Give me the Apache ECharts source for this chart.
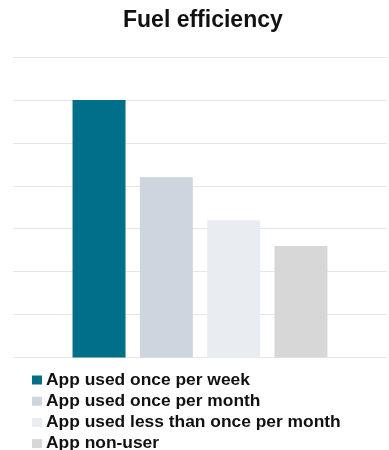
<!DOCTYPE html>
<html>
<head>
<meta charset="utf-8">
<script src="https://cdn.jsdelivr.net/npm/echarts@6/dist/echarts.min.js"></script>
<style>
  html, body { margin: 0; padding: 0; background: #ffffff; }
  #chart { width: 389px; height: 450px; }
</style>
</head>
<body>
<div id="chart"></div>
<script>
// Groups of app usage and their fuel efficiency scores
const categories = ['Fuel efficiency'];
const seriesNames = [
  'App used once per week',
  'App used once per month',
  'App used less than once per month',
  'App non-user'
];
const seriesValues = [6.0, 4.2, 3.2, 2.6];
const seriesColors = ['#026F8A', '#CDD5DF', '#E9EDF2', '#D7D7D7'];

const chart = echarts.init(document.getElementById('chart'), null, { renderer: 'canvas' });

const series = seriesNames.map((name, i) => ({
  name: name,
  type: 'bar',
  data: [seriesValues[i]],
  barWidth: 53,
  barGap: '27%',
  itemStyle: { color: seriesColors[i] },
  emphasis: { disabled: true }
}));

chart.setOption({
  animation: false,
  backgroundColor: '#ffffff',
  title: {
    text: 'Fuel efficiency',
    left: 123,
    top: 9,
    padding: 0,
    textStyle: {
      fontFamily: 'Liberation Sans, Arial, sans-serif',
      fontSize: 23,
      fontWeight: 'bold',
      color: '#111111'
    }
  },
  legend: {
    orient: 'vertical',
    left: 32,
    top: 370,
    height: 120,
    icon: 'rect',
    itemWidth: 10,
    itemHeight: 9,
    itemGap: 1.2,
    padding: 0,
    selectedMode: false,
    textStyle: {
      fontFamily: 'Liberation Sans, Arial, sans-serif',
      fontSize: 17.4,
      fontWeight: 'bold',
      color: '#111111',
      lineHeight: 20,
      padding: [0, 0, 0, -1]
    },
    data: seriesNames
  },
  grid: {
    left: 13,
    right: 2,
    top: 57,
    bottom: 92.5,
    containLabel: false
  },
  xAxis: {
    type: 'category',
    data: categories,
    axisLine: { show: false },
    axisTick: { show: false },
    axisLabel: { show: false }
  },
  yAxis: {
    type: 'value',
    min: 0,
    max: 7,
    interval: 1,
    axisLine: { show: false },
    axisTick: { show: false },
    axisLabel: { show: false },
    splitLine: { lineStyle: { color: '#E6E6E6', width: 1 } }
  },
  series: series
});
</script>
</body>
</html>
